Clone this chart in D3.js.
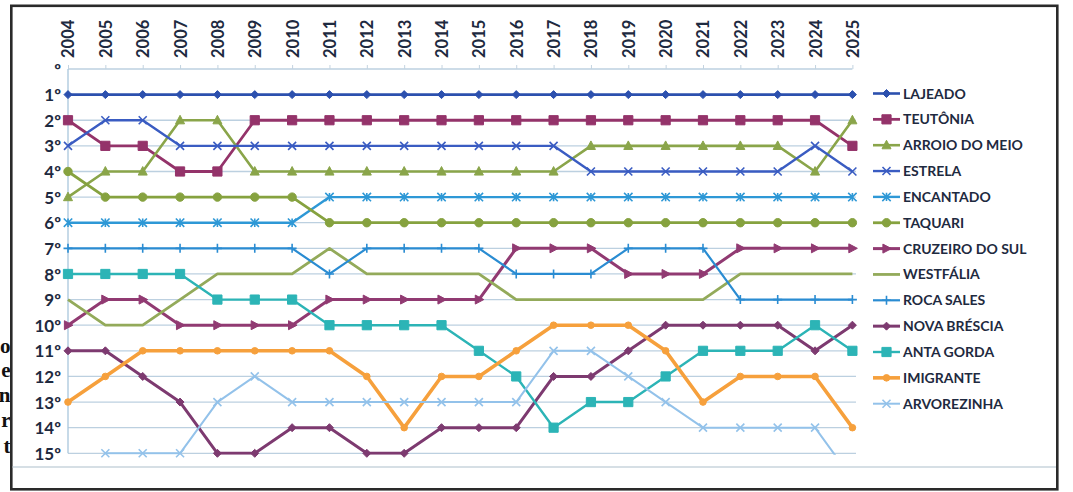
<!DOCTYPE html>
<html><head><meta charset="utf-8">
<script src="https://cdn.jsdelivr.net/npm/d3@7"></script>
<style>
html,body{margin:0;padding:0;background:#fff;}
svg{display:block;}
</style>
</head><body>
<svg id="chart" width="1073" height="492"></svg>
<script>
// ---------- DATA ----------
const years = ["2004","2005","2006","2007","2008","2009","2010","2011","2012","2013","2014","2015","2016","2017","2018","2019","2020","2021","2022","2023","2024","2025"];
const rankLabels = ["º","1º","2º","3º","4º","5º","6º","7º","8º","9º","10º","11º","12º","13º","14º","15º"];
const seriesNames = ["LAJEADO","TEUTÔNIA","ARROIO DO MEIO","ESTRELA","ENCANTADO","TAQUARI","CRUZEIRO DO SUL","WESTFÁLIA","ROCA SALES","NOVA BRÉSCIA","ANTA GORDA","IMIGRANTE","ARVOREZINHA"];
const lajeado      = [1,1,1,1,1,1,1,1,1,1,1,1,1,1,1,1,1,1,1,1,1,1];
const teutonia     = [2,3,3,4,4,2,2,2,2,2,2,2,2,2,2,2,2,2,2,2,2,3];
const arroioDoMeio = [5,4,4,2,2,4,4,4,4,4,4,4,4,4,3,3,3,3,3,3,4,2];
const estrela      = [3,2,2,3,3,3,3,3,3,3,3,3,3,3,4,4,4,4,4,4,3,4];
const encantado    = [6,6,6,6,6,6,6,5,5,5,5,5,5,5,5,5,5,5,5,5,5,5];
const taquari      = [4,5,5,5,5,5,5,6,6,6,6,6,6,6,6,6,6,6,6,6,6,6];
const cruzeiroDoSul= [10,9,9,10,10,10,10,9,9,9,9,9,7,7,7,8,8,8,7,7,7,7];
const westfalia    = [9,10,10,9,8,8,8,7,8,8,8,8,9,9,9,9,9,9,8,8,8,8];
const rocaSales    = [7,7,7,7,7,7,7,8,7,7,7,7,8,8,8,7,7,7,9,9,9,9];
const novaBrescia  = [11,11,12,13,15,15,14,14,15,15,14,14,14,12,12,11,10,10,10,10,11,10];
const antaGorda    = [8,8,8,8,9,9,9,10,10,10,10,11,12,14,13,13,12,11,11,11,10,11];
const imigrante    = [13,12,11,11,11,11,11,11,12,14,12,12,11,10,10,10,11,13,12,12,12,14];
const arvorezinha  = [null,15,15,15,13,12,13,13,13,13,13,13,13,11,11,12,13,14,14,14,14,16];

const seriesValues = [lajeado,teutonia,arroioDoMeio,estrela,encantado,taquari,cruzeiroDoSul,westfalia,rocaSales,novaBrescia,antaGorda,imigrante,arvorezinha];

// ---------- STYLE ----------
const colors  = ["#2c50ae","#94336a","#8aa54a","#3a5cc2","#2e98d6","#86a23f","#913a72","#93aa5a","#2a8cd2","#7d3a70","#2cb4b6","#f6a03c","#93c2ea"];
const markers = ["diamond","square","triangle","x","asterisk","circle","triright","none","plus","diamond","square","circle","x"];
const widths  = [2.6,2.8,2.6,2.4,2.4,2.8,3,2.8,2.2,3,2.4,3.6,2];

const svg = d3.select("#chart");

// fragments of page text visible left of the frame
const frag = ["o","e","n","r","t"];
const fragY = [353,377,402,427,453];
svg.append("g").selectAll("text").data(frag).join("text")
  .attr("x",10.5).attr("y",(d,i)=>fragY[i]).attr("text-anchor","end")
  .style("font-family","Liberation Serif").style("font-weight","bold").style("font-size","21px")
  .attr("fill","#111").text(d=>d);

// frame
svg.append("rect").attr("x",11.3).attr("y",5.8).attr("width",1046).attr("height",483.5)
  .attr("fill","none").attr("stroke","#2a2a2a").attr("stroke-width",2.6);
svg.append("line").attr("x1",12.6).attr("x2",1056).attr("y1",467).attr("y2",467)
  .attr("stroke","#c9d4dd").attr("stroke-width",1.6);

// scales
const x = d3.scalePoint().domain(years).range([68, 852.4]);
const y = d3.scaleLinear().domain([0,15]).range([69, 453.3]);
const plotRight = 856;

const textColor = "#1e2a40";

// gridlines
svg.append("g").selectAll("line").data(d3.range(0,16)).join("line")
  .attr("x1",68).attr("x2",d=> d===0 ? 852.4 : plotRight)
  .attr("y1",d=>y(d)).attr("y2",d=>y(d))
  .attr("stroke","#bcd0e0").attr("stroke-width",1.3);
// left axis line
svg.append("line").attr("x1",68).attr("x2",68).attr("y1",y(0)).attr("y2",y(15))
  .attr("stroke","#a9c6dc").attr("stroke-width",1.3);

// y axis
const yAxis = svg.append("g").attr("transform","translate(68,0)")
  .call(d3.axisLeft(y).tickValues(d3.range(0,16)).tickFormat(i=>rankLabels[i]).tickSize(0).tickPadding(7));
yAxis.select(".domain").remove();
yAxis.selectAll("text").style("font-family","Lato").style("font-weight","bold").style("font-size","17px")
  .attr("fill",textColor).attr("dy","0.36em");

// x axis (top)
const xAxis = svg.append("g").attr("transform",`translate(0,${y(0)})`)
  .call(d3.axisTop(x).tickSize(4));
xAxis.select(".domain").remove();
xAxis.selectAll(".tick line").attr("stroke","#c3d3e0").attr("stroke-width",1);
xAxis.selectAll("text")
  .attr("transform","rotate(-90)")
  .attr("x",11).attr("y",0).attr("dy","0.36em")
  .attr("text-anchor","start")
  .style("font-family","Lato").style("font-weight","bold").style("font-size","16.5px")
  .attr("fill",textColor);

// marker path generator
function markerPath(type, s){
  switch(type){
    case "diamond": return `M0,${-s}L${s},0L0,${s}L${-s},0Z`;
    case "square": return `M${-s},${-s}H${s}V${s}H${-s}Z`;
    case "triangle": return `M0,${-s*1.1}L${s},${s*0.8}L${-s},${s*0.8}Z`;
    case "triright": return `M${-s*0.8},${-s}L${s*1.1},0L${-s*0.8},${s}Z`;
    case "circle": return `M${-s},0A${s},${s} 0 1,0 ${s},0A${s},${s} 0 1,0 ${-s},0Z`;
    case "x": return `M${-s},${-s}L${s},${s}M${-s},${s}L${s},${-s}`;
    case "asterisk": return `M${-s},${-s}L${s},${s}M${-s},${s}L${s},${-s}M0,${-s}V${s}`;
    case "plus": return `M0,${-s}V${s}M${-s},0H${s}`;
  }
  return "";
}
const filled = t => ["diamond","square","triangle","triright","circle"].includes(t);
const markerSize = {diamond:4, square:4.6, triangle:4.5, triright:4.5, circle:4.2, x:4, asterisk:4.2, plus:4.5};

// clip for lines
svg.append("clipPath").attr("id","plotclip").append("rect")
  .attr("x",40).attr("y",y(0)-20).attr("width",plotRight-40+10).attr("height",y(15)-y(0)+21.5);

const line = d3.line().defined(d=>d.v!=null).x(d=>x(d.year)).y(d=>y(d.v));

const gSeries = svg.append("g");
seriesValues.forEach((vals, i) => {
  const pts = vals.map((v,j)=>({year:years[j], v}));
  const g = gSeries.append("g");
  g.append("path").datum(pts).attr("d",line).attr("clip-path","url(#plotclip)")
    .attr("fill","none").attr("stroke",colors[i]).attr("stroke-width",widths[i])
    .attr("stroke-linejoin","round");
  if(markers[i] !== "none"){
    const t = markers[i];
    const s = (i===11) ? 3.3 : markerSize[t];
    g.selectAll("path.m").data(pts.filter(d=>d.v!=null && d.v<=15)).join("path")
      .attr("class","m")
      .attr("transform",d=>`translate(${x(d.year)},${y(d.v)})`)
      .attr("d",markerPath(t,s))
      .attr("fill",filled(t)?colors[i]:"none")
      .attr("stroke",colors[i]).attr("stroke-width",filled(t)?1:1.6);
  }
});

// legend
const legend = svg.append("g");
seriesNames.forEach((name,i)=>{
  const ly = 93.5 + i*25.85;
  const g = legend.append("g").attr("transform",`translate(0,${ly})`);
  g.append("line").attr("x1",873).attr("x2",900).attr("y1",0).attr("y2",0)
    .attr("stroke",colors[i]).attr("stroke-width",widths[i]);
  if(markers[i] !== "none"){
    const t = markers[i];
    const s = (i===11) ? 3.3 : markerSize[t];
    g.append("path").attr("transform","translate(886.5,0)").attr("d",markerPath(t,s))
      .attr("fill",filled(t)?colors[i]:"none").attr("stroke",colors[i]).attr("stroke-width",filled(t)?1:1.6);
  }
  g.append("text").attr("x",903).attr("y",0).attr("dy","0.36em")
    .style("font-family","Lato").style("font-weight","bold").style("font-size","14px")
    .attr("fill",textColor).text(name);
});
</script>
</body></html>
